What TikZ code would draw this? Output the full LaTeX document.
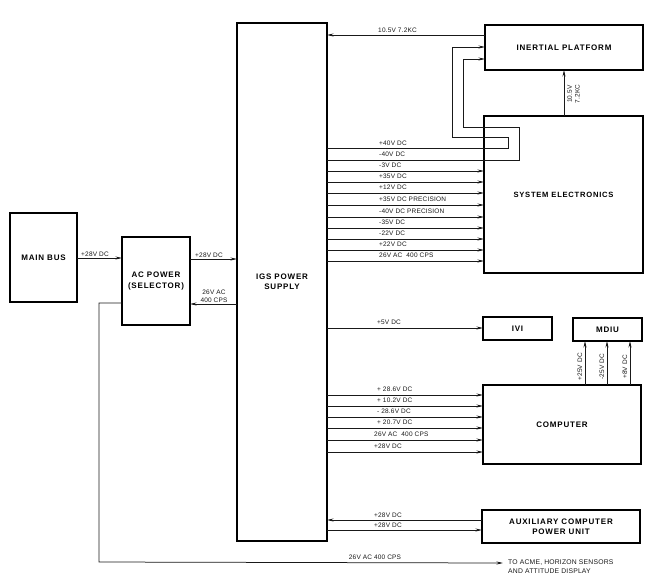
\documentclass[tikz,border=0pt]{standalone}
\usepackage{fontspec}
\setmainfont{Liberation Sans}
\newfontfamily\boxfont[LetterSpace=10]{Liberation Sans Bold}
\newfontfamily\lblfont[LetterSpace=3]{Liberation Sans}
\usetikzlibrary{arrows.meta}
\tikzset{
  blk/.style={draw=black,line width=1.6pt,inner sep=0pt,outer sep=0pt,align=center,
    font=\boxfont\fontsize{8}{10.2}\selectfont},
  wire/.style={draw=black!90,line width=0.75pt},
  arr/.style={wire,-{Stealth[length=6.5pt,width=3pt]}},
  lbl/.style={font=\lblfont\fontsize{6.5}{7.6}\selectfont,text=black!90,inner sep=0pt,align=center},
  lblw/.style={lbl,anchor=west},
}
\newcommand{\blkbox}[6]{%
  \pgfmathsetmacro\bw{#4-#2}\pgfmathsetmacro\bh{#5-#3}%
  \node[blk,minimum width=\bw pt,minimum height=\bh pt] (#1) at ({(#2+#4)/2},{(#3+#5)/2}) {#6};}
\begin{document}
\begin{tikzpicture}[x=1pt,y=-1pt]
\useasboundingbox (0,0) rectangle (658,576);
\blkbox{mainbus}{10}{213}{77}{302}{MAIN BUS}
\blkbox{ac}{122}{237}{190}{325}{AC POWER\\(SELECTOR)}
\blkbox{igs}{237}{23}{327}{541}{IGS POWER\\SUPPLY}
\blkbox{ip}{485}{25}{643}{70}{INERTIAL PLATFORM}
\blkbox{sys}{484}{116}{643}{273}{\fontsize{7.6}{10}\selectfont SYSTEM ELECTRONICS}
\blkbox{ivi}{483}{317}{552}{340}{IVI}
\blkbox{mdiu}{573}{318}{642}{341}{MDIU}
\blkbox{comp}{483}{385}{641}{464}{COMPUTER}
\blkbox{aux}{482}{510}{640}{543}{AUXILIARY COMPUTER\\POWER UNIT}
% left side
\draw[arr] (mainbus.east |- 0,258) -- (ac.west |- 0,258);
\node[lbl] (l1) at (95,254) {+28V DC};
\draw[arr] (ac.east |- 0,259) -- (igs.west |- 0,259);
\node[lbl] (l2) at (209,255) {+28V DC};
\draw[arr] (igs.west |- 0,304) -- (ac.east |- 0,304);
\node[lbl] (l3) at (214,296) {26V AC\\400 CPS};
% inertial platform
\draw[arr] (ip.west |- 0,35) -- (igs.east |- 0,35);
\node[lblw] (l4) at (378,30) {10.5V 7.2KC};
\draw[arr] (igs.east |- 0,148) -- (508,148) -- (508,137) -- (452,137) -- (452,47) -- (ip.west |- 0,47);
\draw[arr] (igs.east |- 0,160) -- (519,160) -- (519,127) -- (463,127) -- (463,59) -- (ip.west |- 0,59);
\node[lblw] (l5) at (379,143.5) {+40V DC};
\node[lblw] (l6) at (379,154.5) {-40V DC};
\draw[arr] (sys.north -| 564,0) -- (ip.south -| 564,0);
\node[lbl,rotate=90] (l7) at (573.5,94) {10.5V\\7.2KC};
% system electronics feeds
\foreach \yy/\tx in {171/-3V DC,182/+35V DC,193/+12V DC,205/+35V DC PRECISION,217/-40V DC PRECISION,228/-35V DC,239/-22V DC,250/+22V DC,261/26V AC\ \ 400 CPS}{
  \draw[arr] (igs.east |- 0,\yy) -- (sys.west |- 0,\yy);
  \node[lblw] at (379,\yy-5.5) {\tx};
}
% IVI
\draw[arr] (igs.east |- 0,328) -- (ivi.west |- 0,328);
\node[lblw] (l8) at (377,322.5) {+5V DC};
% MDIU
\foreach \xx/\tx in {585/+25V DC,607/-25V DC,630/+8V DC}{
  \draw[arr] (comp.north -| \xx,0) -- (mdiu.south -| \xx,0);
  \node[lbl,rotate=90] at (\xx-5,367) {\tx};
}
% computer feeds
\foreach \yy/\xs/\tx in {395/377/+ 28.6V DC,406/377/+ 10.2V DC,417/377/- 28.6V DC,428/377/+ 20.7V DC,440/374/26V AC\ \ 400 CPS,452/374/+28V DC}{
  \draw[arr] (igs.east |- 0,\yy) -- (comp.west |- 0,\yy);
  \node[lblw] at (\xs,\yy-5.5) {\tx};
}
% auxiliary
\draw[arr] (aux.west |- 0,520) -- (igs.east |- 0,520);
\node[lblw] (l9) at (374,515) {+28V DC};
\draw[arr] (igs.east |- 0,530) -- (aux.west |- 0,530);
\node[lblw] (l10) at (374,525.5) {+28V DC};
% bottom
\coordinate (acmeend) at (503,563);
\draw[arr] (ac.west |- 0,303) -- (99,303) -- (99,562) -- (acmeend);
\node[lbl] (l11) at (375,557.5) {26V AC 400 CPS};
\node[lblw,align=left,font=\lblfont\fontsize{6.8}{8.6}\selectfont] (l12) at (508,566.5) {TO ACME, HORIZON SENSORS\\AND ATTITUDE DISPLAY};
\end{tikzpicture}
\end{document}
